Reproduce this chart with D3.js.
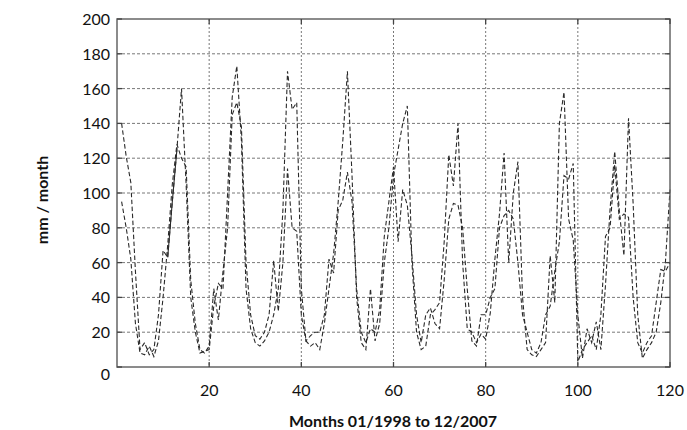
<!DOCTYPE html>
<html>
<head>
<meta charset="utf-8">
<script src="https://cdn.jsdelivr.net/npm/d3@7"></script>
<style>
  body { margin: 0; background: #fff; }
  svg text { font-family: Lato, "Open Sans", sans-serif; fill: #111; }
  .tick-label { font-size: 16px; }
  .axis-title { font-size: 16px; font-weight: bold; }
</style>
</head>
<body>
<svg id="chart" width="687" height="430"></svg>
<script>
// monthly values, 01/1998 .. 12/2007
var seriesA = [
    140, 121, 106, 55, 10, 14, 7, 10, 30, 67,
    63, 95, 125, 160, 105, 40, 20, 8, 9, 10,
    35, 48, 45, 100, 155, 173, 130, 45, 22, 14,
    12, 15, 20, 30, 45, 90, 170, 148, 152, 45,
    15, 12, 14, 10, 25, 45, 65, 95, 130, 170,
    110, 40, 14, 10, 45, 15, 25, 60, 80, 110,
    125, 140, 150, 60, 20, 10, 12, 30, 33, 37,
    72, 122, 104, 140, 60, 22, 20, 14, 19, 16,
    31, 62, 88, 123, 60, 100, 118, 40, 10, 7,
    6, 10, 14, 64, 37, 140, 158, 85, 73, 30,
    5, 22, 14, 26, 10, 47, 91, 124, 90, 64,
    143, 94, 30, 5, 10, 14, 20, 37, 60, 102
];
var seriesB = [
    95, 80, 62, 25, 8, 7, 12, 6, 15, 40,
    70, 105, 128, 120, 115, 50, 25, 10, 8, 12,
    45, 27, 55, 80, 145, 152, 138, 60, 30, 18,
    16, 20, 30, 61, 32, 60, 114, 80, 78, 30,
    15, 18, 20, 20, 30, 62, 54, 90, 96, 112,
    95, 45, 20, 14, 22, 20, 33, 75, 95, 115,
    72, 102, 93, 64, 30, 14, 30, 34, 25, 22,
    50, 85, 94, 93, 80, 45, 15, 12, 30, 30,
    40, 45, 80, 87, 90, 85, 60, 30, 20, 10,
    8, 14, 30, 35, 55, 72, 110, 108, 117, 3,
    10, 14, 18, 10, 30, 75, 80, 116, 85, 88,
    86, 40, 14, 8, 14, 18, 37, 56, 55, 60
];
// months where seriesA is drawn as a plain (gap filled) line
var solidMonths = [11, 13];

var xTicks = [20, 40, 60, 80, 100, 120];
var yTicks = [0, 20, 40, 60, 80, 100, 120, 140, 160, 180, 200];

var margin = { top: 19, right: 17, bottom: 63, left: 117 };
var width = 687 - margin.left - margin.right;
var height = 430 - margin.top - margin.bottom;

var svg = d3.select('#chart');
var g = svg.append('g')
    .attr('transform', 'translate(' + margin.left + ',' + margin.top + ')');

var x = d3.scaleLinear().domain([0, 120]).range([0, width]);
var y = d3.scaleLinear().domain([0, 200]).range([height, 0]);

// grid
g.append('g')
    .selectAll('line')
    .data(yTicks.filter(d => d > 0 && d < 200))
    .enter()
    .append('line')
    .attr('x1', 0)
    .attr('x2', width)
    .attr('y1', d => y(d))
    .attr('y2', d => y(d))
    .attr('stroke', '#555')
    .attr('stroke-width', 0.8)
    .attr('stroke-dasharray', '3,2');

g.append('g')
    .selectAll('line')
    .data(xTicks.filter(d => d < 120))
    .enter()
    .append('line')
    .attr('x1', d => x(d))
    .attr('x2', d => x(d))
    .attr('y1', 0)
    .attr('y2', height)
    .attr('stroke', '#555')
    .attr('stroke-width', 0.8)
    .attr('stroke-dasharray', '2,2');

// data lines
var line = d3.line()
    .x((d, i) => x(i + 1))
    .y(d => y(d));

[seriesA, seriesB].forEach(function (s) {
    g.append('path')
        .datum(s)
        .attr('fill', 'none')
        .attr('stroke', '#2a2a2a')
        .attr('stroke-width', 1.1)
        .attr('stroke-dasharray', '4.5,2.5')
        .attr('d', line);
});

var solidPart = d3.range(solidMonths[0], solidMonths[1] + 1);
g.append('path')
    .datum(solidPart)
    .attr('fill', 'none')
    .attr('stroke', '#2a2a2a')
    .attr('stroke-width', 1.1)
    .attr('d', d3.line().x(m => x(m)).y(m => y(seriesA[m - 1])));

// frame and inward ticks
g.append('rect')
    .attr('width', width)
    .attr('height', height)
    .attr('fill', 'none')
    .attr('stroke', '#666')
    .attr('stroke-width', 1.5);

var tickLen = 5;
var ticks = g.append('g').attr('stroke', '#444').attr('stroke-width', 1.3);
xTicks.forEach(function (t) {
    ticks.append('line').attr('x1', x(t)).attr('x2', x(t)).attr('y1', height).attr('y2', height - tickLen);
    ticks.append('line').attr('x1', x(t)).attr('x2', x(t)).attr('y1', 0).attr('y2', tickLen);
});
yTicks.forEach(function (t) {
    ticks.append('line').attr('x1', 0).attr('x2', tickLen).attr('y1', y(t)).attr('y2', y(t));
    ticks.append('line').attr('x1', width).attr('x2', width - tickLen).attr('y1', y(t)).attr('y2', y(t));
});

// tick labels
g.append('g')
    .selectAll('text')
    .data(xTicks)
    .enter()
    .append('text')
    .attr('class', 'tick-label')
    .attr('x', d => x(d))
    .attr('y', height + 29)
    .attr('text-anchor', 'middle')
    .text(d => d);

g.append('g')
    .selectAll('text')
    .data(yTicks)
    .enter()
    .append('text')
    .attr('class', 'tick-label')
    .attr('x', -7)
    .attr('y', d => y(d) + (d === 0 ? 13 : 6))
    .attr('text-anchor', 'end')
    .text(d => d);

// axis titles
svg.append('text')
    .attr('class', 'axis-title')
    .attr('x', 393)
    .attr('y', 427)
    .attr('text-anchor', 'middle')
    .text('Months 01/1998 to 12/2007');

svg.append('text')
    .attr('class', 'axis-title')
    .attr('transform', 'translate(48,200) rotate(-90)')
    .attr('text-anchor', 'middle')
    .text('mm / month');
</script>
</body>
</html>
